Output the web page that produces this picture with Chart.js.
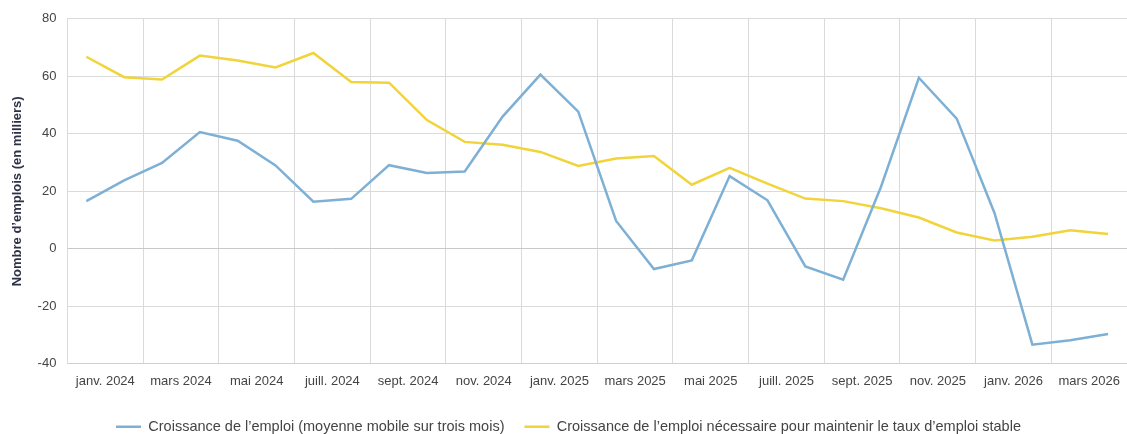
<!DOCTYPE html>
<html lang="fr">
<head>
<meta charset="utf-8">
<script src="https://cdn.jsdelivr.net/npm/chart.js@4"></script>
<style>
  html, body { margin: 0; padding: 0; background: #fff; }
  #wrap { width: 1127px; height: 434px; position: relative; }
</style>
</head>
<body>
<div id="wrap"><canvas id="emploiChart"></canvas></div>
<script>
const months = [
  'janv. 2024', 'févr. 2024', 'mars 2024', 'avr. 2024', 'mai 2024', 'juin 2024',
  'juill. 2024', 'août 2024', 'sept. 2024', 'oct. 2024', 'nov. 2024', 'déc. 2024',
  'janv. 2025', 'févr. 2025', 'mars 2025', 'avr. 2025', 'mai 2025', 'juin 2025',
  'juill. 2025', 'août 2025', 'sept. 2025', 'oct. 2025', 'nov. 2025', 'déc. 2025',
  'janv. 2026', 'févr. 2026', 'mars 2026', 'avr. 2026'
];
const croissance = [
  16.6, 23.8, 29.9, 40.6, 37.6, 29.0, 16.4, 17.4, 29.1, 26.4, 26.9, 46.0,
  60.6, 47.7, 9.7, -7.0, -4.0, 25.3, 16.9, -6.1, -10.7, 21.6, 59.5, 45.3,
  12.4, -33.3, -31.8, -29.6
];
const croissanceNecessaire = [
  66.8, 59.7, 58.9, 67.2, 65.5, 63.1, 68.1, 58.0, 57.8, 44.8, 37.2, 36.2,
  33.7, 28.8, 31.4, 32.3, 22.3, 28.2, 22.7, 17.5, 16.6, 14.1, 10.9, 5.7,
  2.9, 4.2, 6.5, 5.2
];
const yTicks = { min: -40, max: 80, step: 20 };

Chart.defaults.font.family = '"Liberation Sans", Arial, sans-serif';

const ctx = document.getElementById('emploiChart').getContext('2d');
new Chart(ctx, {
  type: 'line',
  data: {
    labels: months,
    datasets: [
      {
        label: 'Croissance de l’emploi (moyenne mobile sur trois mois)',
        data: croissance,
        borderColor: '#7eb0d5',
        backgroundColor: '#7eb0d5',
        borderWidth: 2.5,
        pointRadius: 0,
        tension: 0
      },
      {
        label: 'Croissance de l’emploi nécessaire pour maintenir le taux d’emploi stable',
        data: croissanceNecessaire,
        borderColor: '#f0d43a',
        backgroundColor: '#f0d43a',
        borderWidth: 2.5,
        pointRadius: 0,
        tension: 0
      }
    ]
  },
  options: {
    responsive: true,
    maintainAspectRatio: false,
    animation: false,
    layout: { padding: { top: 11, right: 0, left: 10, bottom: -10 } },
    plugins: {
      legend: {
        position: 'bottom',
        labels: {
          usePointStyle: true,
          pointStyle: 'line',
          pointStyleWidth: 25,
          padding: 20,
          color: '#444',
          font: { size: 14.5 }
        }
      },
      tooltip: { enabled: false }
    },
    scales: {
      x: {
        offset: true,
        grid: {
          offset: true,
          color: (c) => (c.index % 2 === 0 ? '#dadada' : 'rgba(0,0,0,0)'),
          drawTicks: false
        },
        border: { color: '#cfcfcf' },
        ticks: {
          autoSkip: false,
          maxRotation: 0,
          padding: 10,
          labelOffset: 19,
          color: '#444',
          font: { size: 13 },
          callback: function (val, i) { return i % 2 === 0 ? this.getLabelForValue(val) : ''; }
        }
      },
      y: {
        min: yTicks.min,
        max: yTicks.max,
        grid: {
          color: (c) => (c.tick && c.tick.value === 0 ? '#c8c8c8' : '#dadada'),
          drawTicks: false
        },
        border: { color: '#dadada' },
        ticks: {
          stepSize: yTicks.step,
          padding: 11,
          color: '#444',
          font: { size: 13 }
        },
        title: {
          display: true,
          text: 'Nombre d’emplois (en milliers)',
          color: '#2e3046',
          font: { size: 13, weight: 'bold' },
          padding: { top: 0, bottom: 1 }
        }
      }
    }
  }
});
</script>
</body>
</html>
